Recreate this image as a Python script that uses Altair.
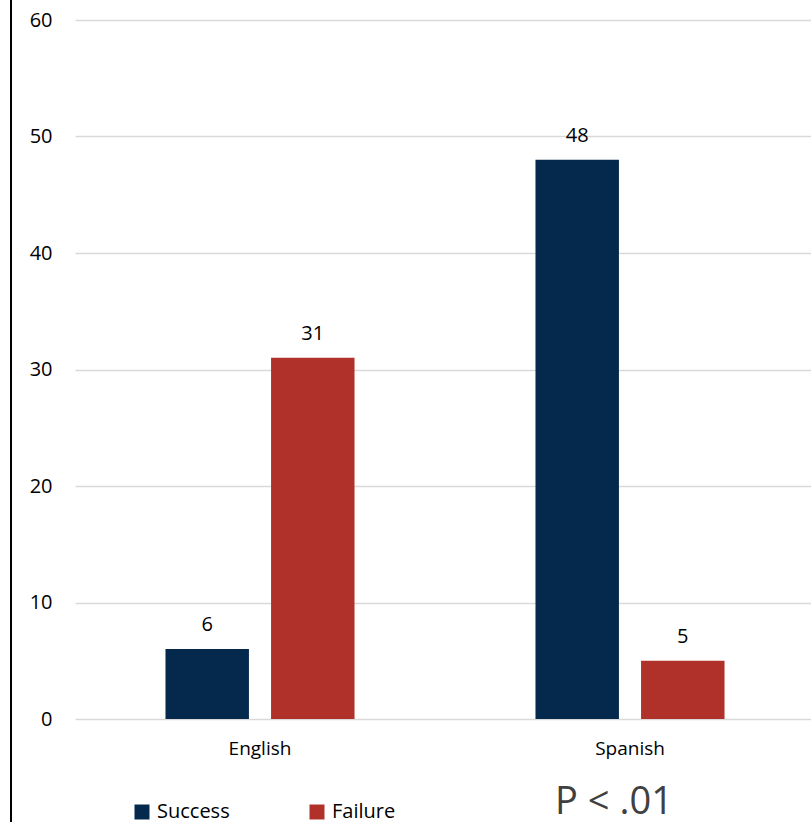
import altair as alt
import pandas as pd

languages = ["English", "English", "Spanish", "Spanish"]
outcomes = ["Success", "Failure", "Success", "Failure"]
counts = [6, 31, 48, 5]
outcome_order = ["Success", "Failure"]
colors = ["#05294C", "#B0302A"]
note = ["P < .01"]

df = pd.DataFrame({"Language": languages, "Outcome": outcomes, "Count": counts})

FONT = "Open Sans"

x = alt.X("Language:N", sort=["English", "Spanish"], title=None,
          scale=alt.Scale(paddingInner=0, paddingOuter=0, range=[0, 740]),
          axis=alt.Axis(labelAngle=0, ticks=False, domain=False, labelPadding=20,
                        labelFontSize=19, labelColor="#000000", labelFont=FONT, grid=False))
xoff = alt.XOffset("Outcome:N", sort=outcome_order,
                   scale=alt.Scale(paddingInner=0.2095, paddingOuter=0.857))

bars = alt.Chart(df).mark_bar().encode(
    x=x,
    xOffset=xoff,
    y=alt.Y("Count:Q", title=None,
            scale=alt.Scale(domain=[0, 60]),
            axis=alt.Axis(values=[0, 10, 20, 30, 40, 50, 60], ticks=False, domain=False,
                          labelPadding=23, labelFontSize=20, labelColor="#000000", labelFont=FONT,
                          gridColor="#D9D9D9", gridWidth=1.5)),
    color=alt.Color("Outcome:N", sort=outcome_order,
                    scale=alt.Scale(domain=outcome_order, range=colors),
                    legend=alt.Legend(title=None, orient="none", direction="horizontal",
                                      legendX=57, legendY=782, symbolType="square",
                                      symbolSize=225, symbolStrokeWidth=0, labelFontSize=20,
                                      labelFont=FONT, labelColor="#000000",
                                      columnPadding=77, labelOffset=5)),
)

labels = alt.Chart(df).mark_text(baseline="alphabetic", dy=-18, fontSize=20, font=FONT, color="#000000").encode(
    x=alt.X("Language:N", sort=["English", "Spanish"]),
    xOffset=xoff,
    y="Count:Q",
    text="Count:Q",
)

left_line = alt.Chart(df).mark_rule(color="#000000", strokeWidth=2).encode(
    x=alt.value(-64), y=alt.value(-20), y2=alt.value(802)
)

note_df = pd.DataFrame({"t": note})
p_text = alt.Chart(note_df).mark_text(fontSize=38, font=FONT, color="#404040",
                                      align="center", baseline="alphabetic").encode(
    x=alt.value(539), y=alt.value(794), text="t:N"
)

chart = (
    alt.layer(bars, labels, left_line, p_text)
    .properties(
        width=736, height=699,
        background="#FFFFFF",
        autosize=alt.AutoSizeParams(type="none"),
        padding={"left": 75, "top": 20, "right": 0, "bottom": 103},
    )
    .configure_view(strokeWidth=0, stroke="transparent")
    .configure_axis(domain=False)
    .configure_axisX(grid=False)
)

chart.save("out.html", embed_options={"renderer": "svg", "actions": False})
